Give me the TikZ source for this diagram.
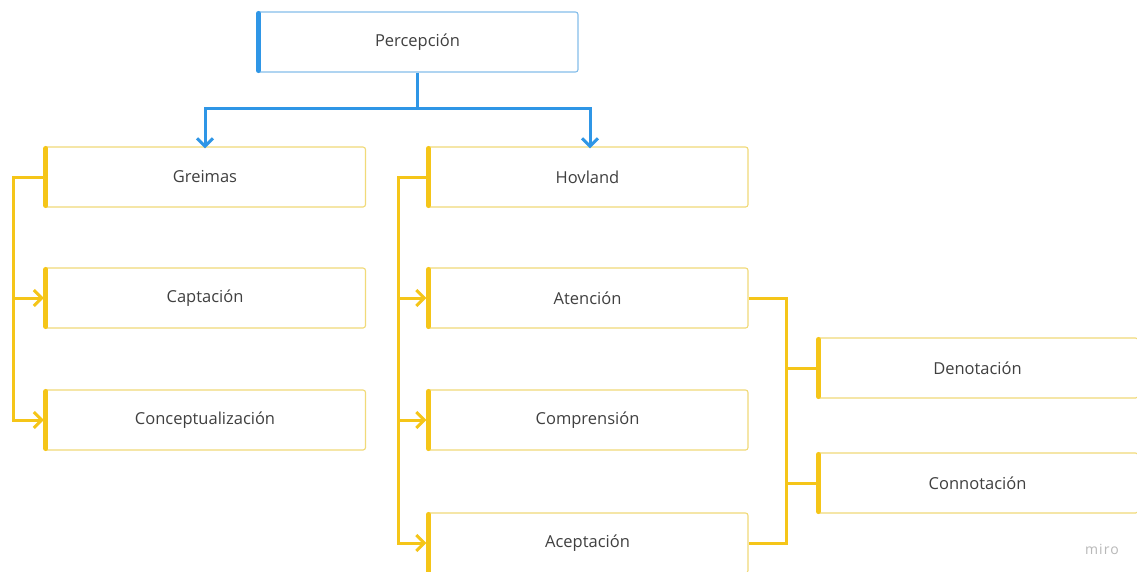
\documentclass[tikz,border=0pt]{standalone}
\usepackage{fontspec}
\setmainfont{Open Sans}
\usetikzlibrary{arrows.meta}
\definecolor{myyellow}{HTML}{F5C518}
\definecolor{lightyellow}{HTML}{F1DA78}
\definecolor{myblue}{HTML}{2F96E6}
\definecolor{lightblue}{HTML}{85BEEA}
\definecolor{txt}{HTML}{404040}
\tikzset{
  card/.style={draw=lightyellow, line width=1.1pt, rounded corners=2.5pt, fill=white,
    minimum width=321pt, minimum height=60pt, inner sep=0pt, text=txt,
    font=\fontsize{16.5}{19}\selectfont},
  bluecard/.style={card, draw=lightblue},
  ylink/.style={draw=myyellow, line width=3pt},
  blink/.style={draw=myblue, line width=3pt},
  tip/.style={-{Straight Barb[length=8pt,width=16pt]}},
  ybar/.style={draw=myyellow, line width=5pt, line cap=round},
  bbar/.style={draw=myblue, line width=5pt, line cap=round},
}
\begin{document}
\begin{tikzpicture}[x=1pt,y=-1pt]
\useasboundingbox (0,0) rectangle (1137,571);
\fill[white] (0,0) rectangle (1137,571);
% nodes
\node[bluecard] (perc) at (417.5,42) {Percepción};
\node[card] (grei) at (205,177) {Greimas};
\node[card] (capt) at (205,298) {Captación};
\node[card] (conc) at (205,420) {Conceptualización};
\node[card] (hovl) at (587.5,177) {Hovland};
\node[card] (aten) at (587.5,298) {Atención};
\node[card] (comp) at (587.5,420) {Comprensión};
\node[card] (acep) at (587.5,543) {Aceptación};
\node[card] (deno) at (977.5,368) {Denotación};
\node[card] (conn) at (977.5,483) {Connotación};
% left bars
\draw[bbar] ([xshift=2pt,yshift=-2pt]perc.north west) -- ([xshift=2pt,yshift=2pt]perc.south west);
\foreach \n in {grei,capt,conc,hovl,aten,comp,acep,deno,conn}{
  \draw[ybar] ([xshift=2pt,yshift=-2pt]\n.north west) -- ([xshift=2pt,yshift=2pt]\n.south west);
}
% blue connectors
\coordinate (bj) at (417.5,108);
\draw[blink] (perc.south) -- (bj);
\draw[blink, tip] (bj) -| ([yshift=-2pt]grei.north);
\draw[blink, tip] (bj) -| ([xshift=2.5pt,yshift=-2pt]hovl.north);
% yellow connectors: Greimas
\coordinate (gx) at (13,177);
\draw[ylink] (grei.west) -- (gx) -- (13,420);
\draw[ylink, tip] (13,298) -- (capt.west);
\draw[ylink, tip] (13,350) |- (conc.west);
% Hovland
\coordinate (hx) at (398,177);
\draw[ylink] (hovl.west) -- (hx) -- (398,543);
\draw[ylink, tip] (398,298) -- (aten.west);
\draw[ylink, tip] (398,420) -- (comp.west);
\draw[ylink, tip] (398,500) |- (acep.west);
% Atención / Aceptación to Denotación / Connotación
\coordinate (ax) at (786,298);
\draw[ylink] (aten.east) -- (ax) -- (786,543) -- (acep.east);
\draw[ylink] (786,368) -- (deno.west);
\draw[ylink] (786,483) -- (conn.west);
% watermark
\node[text=black!28, font=\fontsize{14}{16}\selectfont\addfontfeature{LetterSpace=8}] (miro) at (1102,549) {miro};
\end{tikzpicture}
\end{document}
